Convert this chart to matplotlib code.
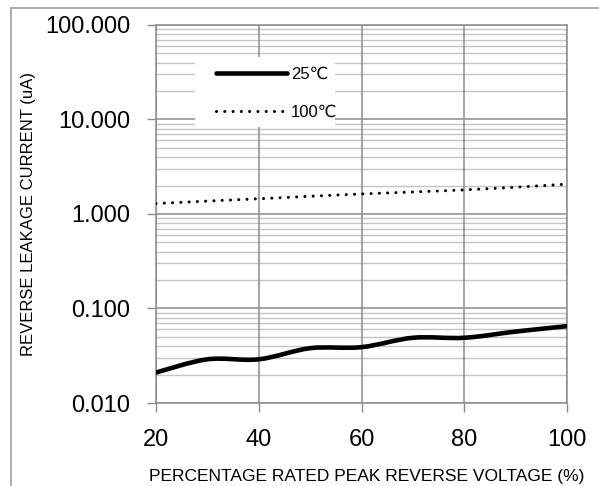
import numpy as np
import matplotlib
matplotlib.use("Agg")
import matplotlib.pyplot as plt
from matplotlib.path import Path
from matplotlib.patches import PathPatch, Rectangle
from matplotlib.lines import Line2D
from matplotlib.ticker import FixedLocator, FixedFormatter, NullLocator

plt.rcParams['font.family'] = ['Liberation Sans', 'DejaVu Sans']

# ---- data ----
voltage_pct = [20, 30, 40, 50, 60, 70, 80, 90, 100]
leak_25c = [0.021, 0.029, 0.029, 0.038, 0.039, 0.049, 0.049, 0.057, 0.065]
leak_100c = [1.29, 1.37, 1.45, 1.54, 1.63, 1.71, 1.80, 1.92, 2.07]
series_labels = ["25\u2103", "100\u2103"]
x_ticks = [20, 40, 60, 80, 100]
y_ticks = [0.01, 0.1, 1, 10, 100]
y_ticklabels = ["0.010", "0.100", "1.000", "10.000", "100.000"]
x_label = "PERCENTAGE RATED PEAK REVERSE VOLTAGE (%)"
y_label = "REVERSE LEAKAGE CURRENT (uA)"

W, H = 599, 486
AX_L, AX_R, AX_T, AX_B = 156, 567, 25, 403
fig = plt.figure(figsize=(W / 100, H / 100), dpi=100)
ax = fig.add_axes([AX_L / W, 1 - AX_B / H, (AX_R - AX_L) / W, (AX_B - AX_T) / H])
ax.set_yscale('log')
ax.set_xlim(20, 100)
ax.set_ylim(0.01, 100)


def axfrac(px, py):
    return (px - AX_L) / (AX_R - AX_L), (AX_B - py) / (AX_B - AX_T)


# grid
major_c = '#8c8c8c'
minor_c = '#c4c4c4'
for d in [0.01, 0.1, 1, 10]:
    for m in range(2, 10):
        ax.axhline(d * m, color=minor_c, lw=1.0, zorder=1)
for yv in y_ticks:
    ax.axhline(yv, color=major_c, lw=1.1, zorder=1.5)
for xv in x_ticks:
    ax.axvline(xv, color=major_c, lw=1.1, zorder=1.5)

ax.xaxis.set_major_locator(FixedLocator(x_ticks))
ax.yaxis.set_major_locator(FixedLocator(y_ticks))
ax.yaxis.set_major_formatter(FixedFormatter(y_ticklabels))
ax.yaxis.set_minor_locator(NullLocator())
ax.tick_params(axis='both', which='major', direction='out', length=6.5, width=1.0,
               color=major_c, labelsize=17, pad=12)
for s in ax.spines.values():
    s.set_color(major_c)
    s.set_linewidth(1.1)


def smooth_path(xs, ys):
    xs = np.asarray(xs, float)
    ly = np.log10(np.asarray(ys, float))
    pts = np.column_stack([xs, ly])
    n = len(pts)
    verts = [pts[0]]
    codes = [Path.MOVETO]
    for i in range(n - 1):
        p0 = pts[i - 1] if i > 0 else pts[i]
        p1 = pts[i]
        p2 = pts[i + 1]
        p3 = pts[i + 2] if i + 2 < n else pts[i + 1]
        c1 = p1 + (p2 - p0) / 6.0
        c2 = p2 - (p3 - p1) / 6.0
        verts += [c1, c2, p2]
        codes += [Path.CURVE4] * 3
    v = np.array(verts)
    v[:, 1] = 10 ** v[:, 1]
    return Path(v, codes)


solid_kw = dict(color='black', lw=3.3, solid_capstyle='round')
dot_kw = dict(color='black', lw=2.2, dash_capstyle='round')

p1 = PathPatch(smooth_path(voltage_pct, leak_25c), facecolor='none', edgecolor='black',
               lw=3.3, capstyle='round', joinstyle='round', zorder=3)
ax.add_patch(p1)
p2 = PathPatch(smooth_path(voltage_pct, leak_100c), facecolor='none', edgecolor='black',
               lw=2.2, linestyle=(0, (0.01, 2.7)), capstyle='round', zorder=3)
ax.add_patch(p2)

# legend background box
bx0, by0 = axfrac(195, 127)
bx1, by1 = axfrac(335, 57)
ax.add_patch(Rectangle((bx0, by0), bx1 - bx0, by1 - by0, transform=ax.transAxes,
                       facecolor='white', edgecolor='none', zorder=4))

h1 = Line2D([], [], **solid_kw)
h2 = Line2D([], [], linestyle=(0, (0.01, 2.7)), **dot_kw)
leg = ax.legend([h1, h2], series_labels, loc='upper left',
                bbox_to_anchor=axfrac(216, 67),
                fontsize=12, frameon=False, handlelength=4.25,
                handletextpad=0.25, labelspacing=1.35, borderpad=0,
                borderaxespad=0)
leg.set_zorder(5)

fig.text(367 / W, 1 - 476 / H, x_label, ha='center', va='center', fontsize=12.5)
fig.text(28.5 / W, 1 - 213.5 / H, y_label, ha='center', va='center', rotation=90, fontsize=12)

# outer frame
fig.add_artist(Line2D([11 / W, 11 / W], [0, 1 - 8 / H], color='#a0a0a0', lw=1.2,
                      transform=fig.transFigure))
fig.add_artist(Line2D([11 / W, 1], [1 - 8 / H, 1 - 8 / H], color='#a0a0a0', lw=1.2,
                      transform=fig.transFigure))

fig.savefig('out.png', dpi=100)
